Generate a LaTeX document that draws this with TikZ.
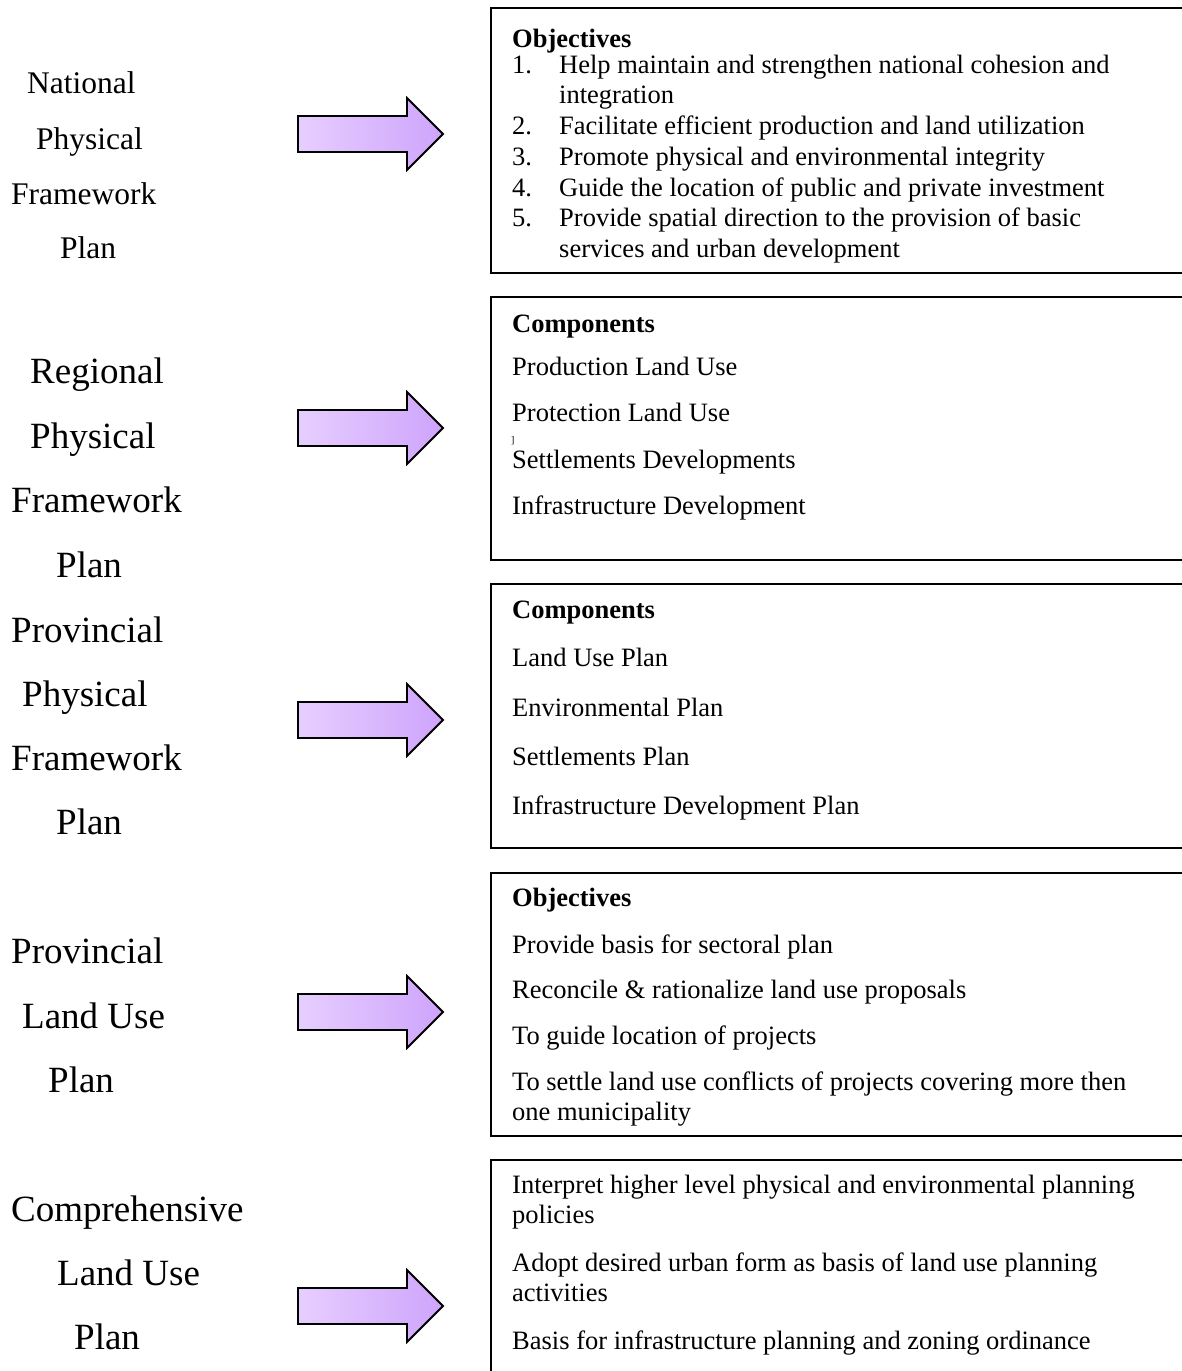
\documentclass[tikz,border=0pt]{standalone}
\usepackage{fontspec}
\setmainfont{Liberation Serif}
\begin{document}
\begin{tikzpicture}[x=1pt,y=-1pt,
  panel/.style={draw=black,line width=2.4pt,fill=none,inner sep=0pt,anchor=north west,minimum width=720pt},
  btxt/.style={anchor=base west,inner sep=0pt,font=\fontsize{26.5}{30.5}\selectfont},
  lbla/.style={anchor=base west,inner sep=0pt,font=\fontsize{31.5}{36}\selectfont},
  lblb/.style={anchor=base west,inner sep=0pt,font=\fontsize{37}{42}\selectfont},
  blockarrow/.style={draw=black,line width=1.8pt,line join=miter,
    left color={rgb,255:red,231;green,206;blue,255},right color={rgb,255:red,206;green,164;blue,252}}
]
\clip (0,0) rectangle (1182,1371);
\fill[white] (0,0) rectangle (1182,1371);

% boxes
\node[panel,minimum height=265pt] (box1) at (490,7) {};
\node[panel,minimum height=263pt] (box2) at (490,296) {};
\node[panel,minimum height=264pt] (box3) at (490,583) {};
\node[panel,minimum height=263pt] (box4) at (490,872) {};
\node[panel,minimum height=260pt] (box5) at (490,1159) {};

% block arrows
\foreach \cy/\nm in {134/a1,428/a2,720/a3,1012/a4,1306/a5}{
  \draw[blockarrow] (298,\cy-18) -- (407,\cy-18) -- (407,\cy-36) -- (443,\cy)
     -- (407,\cy+36) -- (407,\cy+18) -- (298,\cy+18) -- cycle;
  \coordinate (\nm) at (370,\cy);
}

% left labels
\node[lbla] (l1a) at (27,93) {National};
\node[lbla] (l1b) at (36,149) {Physical};
\node[lbla] (l1c) at (11,204) {Framework};
\node[lbla] (l1d) at (60,258) {Plan};

\node[lblb] (l2a) at (30,383) {Regional};
\node[lblb] (l2b) at (30,448) {Physical};
\node[lblb] (l2c) at (11,512) {Framework};
\node[lblb] (l2d) at (56,577) {Plan};

\node[lblb] (l3a) at (11,642) {Provincial};
\node[lblb] (l3b) at (22,706) {Physical};
\node[lblb] (l3c) at (11,770) {Framework};
\node[lblb] (l3d) at (56,834) {Plan};

\node[lblb] (l4a) at (11,963) {Provincial};
\node[lblb] (l4b) at (22,1028) {Land Use};
\node[lblb] (l4c) at (48,1092) {Plan};

\node[lblb] (l5a) at (11,1221) {Comprehensive};
\node[lblb] (l5b) at (57,1285) {Land Use};
\node[lblb] (l5c) at (74,1349) {Plan};

% box 1
\node[btxt] (t1h) at (512,47) {\textbf{Objectives}};
\node[btxt] (t1n1) at (512,73) {1.};
\node[btxt] (t1a) at (559,73) {Help maintain and strengthen national cohesion and};
\node[btxt] (t1b) at (559,103) {integration};
\node[btxt] (t1n2) at (512,134) {2.};
\node[btxt] (t1c) at (559,134) {Facilitate efficient production and land utilization};
\node[btxt] (t1n3) at (512,165) {3.};
\node[btxt] (t1d) at (559,165) {Promote physical and environmental integrity};
\node[btxt] (t1n4) at (512,196) {4.};
\node[btxt] (t1e) at (559,196) {Guide the location of public and private investment};
\node[btxt] (t1n5) at (512,226) {5.};
\node[btxt] (t1f) at (559,226) {Provide spatial direction to the provision of basic};
\node[btxt] (t1g) at (559,257) {services and urban development};

% box 2
\node[btxt] (t2h) at (512,332) {\textbf{Components}};
\node[btxt] (t2a) at (512,375) {Production Land Use};
\node[btxt] (t2b) at (512,421) {Protection Land Use};
\node[anchor=base west,inner sep=0pt,font=\fontsize{10}{12}\selectfont] (t2x) at (511,443) {]};
\node[btxt] (t2c) at (512,468) {Settlements Developments};
\node[btxt] (t2d) at (512,514) {Infrastructure Development};

% box 3
\node[btxt] (t3h) at (512,618) {\textbf{Components}};
\node[btxt] (t3a) at (512,666) {Land Use Plan};
\node[btxt] (t3b) at (512,716) {Environmental Plan};
\node[btxt] (t3c) at (512,765) {Settlements Plan};
\node[btxt] (t3d) at (512,814) {Infrastructure Development Plan};

% box 4
\node[btxt] (t4h) at (512,906) {\textbf{Objectives}};
\node[btxt] (t4a) at (512,953) {Provide basis for sectoral plan};
\node[btxt] (t4b) at (512,998) {Reconcile \& rationalize land use proposals};
\node[btxt] (t4c) at (512,1044) {To guide location of projects};
\node[btxt] (t4d) at (512,1090) {To settle land use conflicts of projects covering more then};
\node[btxt] (t4e) at (512,1120) {one municipality};

% box 5
\node[btxt] (t5a) at (512,1193) {Interpret higher level physical and environmental planning};
\node[btxt] (t5b) at (512,1223) {policies};
\node[btxt] (t5c) at (512,1271) {Adopt desired urban form as basis of land use planning};
\node[btxt] (t5d) at (512,1301) {activities};
\node[btxt] (t5e) at (512,1349) {Basis for infrastructure planning and zoning ordinance};
\end{tikzpicture}
\end{document}
